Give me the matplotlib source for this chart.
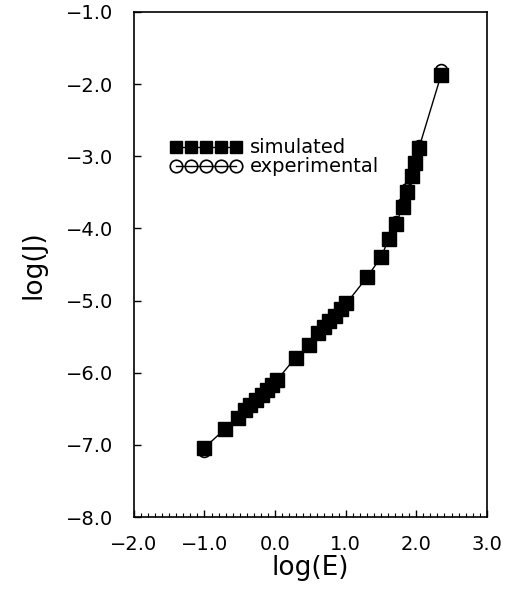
import numpy as np
import matplotlib.pyplot as plt
from matplotlib.ticker import MultipleLocator, FuncFormatter

# log(E) values and log(J) for simulated / experimental
log_e = [-1.00, -0.71, -0.53,
         -0.43, -0.35, -0.27, -0.19, -0.11, -0.04, 0.03,
         0.29, 0.48,
         0.61, 0.69, 0.77, 0.85, 0.93, 1.01,
         1.30, 1.50, 1.61, 1.71, 1.81, 1.87, 1.94, 1.98, 2.04, 2.35]
log_j_sim = [-7.04, -6.78, -6.63,
             -6.52, -6.45, -6.38, -6.31, -6.24, -6.17, -6.10,
             -5.79, -5.62,
             -5.45, -5.37, -5.29, -5.21, -5.12, -5.04,
             -4.68, -4.40, -4.15, -3.94, -3.70, -3.49, -3.28, -3.09, -2.88, -1.88]
log_j_exp = [-7.09, -6.78, -6.63,
             -6.52, -6.45, -6.38, -6.31, -6.24, -6.17, -6.10,
             -5.79, -5.62,
             -5.45, -5.37, -5.29, -5.21, -5.12, -5.04,
             -4.68, -4.39, -4.13, -3.91, -3.66, -3.46, -3.25, -3.06, -2.86, -1.81]

fig = plt.figure(figsize=(5.13, 5.97), dpi=100)
ax = fig.add_axes([0.261, 0.134, 0.688, 0.846])

ax.plot(log_e, log_j_sim, color="black", lw=1.0, zorder=1)
ax.plot(log_e, log_j_sim, ls="none", marker="s", ms=9.5, color="black", zorder=2)
ax.plot(log_e, log_j_exp, ls="none", marker="o", ms=8.5, mfc="none", mec="black", mew=1.2, zorder=3)

# legend drawn with five symbols each
h_sim = plt.Line2D([], [], color="black", lw=1.0, marker="s", ms=9)
h_exp = plt.Line2D([], [], color="black", lw=1.0, marker="o", ms=9, mfc="none", mew=1.2)
ax.legend([h_sim, h_exp], ["simulated", "experimental"], numpoints=5, frameon=False,
          loc="upper left", bbox_to_anchor=(0.075, 0.769), fontsize=14,
          handlelength=3.7, handletextpad=0.4, labelspacing=0.0, borderpad=0)

fmt = FuncFormatter(lambda v, pos: ("%.1f" % v).replace("-", "\u2212"))
ax.set_xlim(-2.0, 3.0)
ax.set_ylim(-8.0, -1.0)
ax.xaxis.set_major_locator(MultipleLocator(1.0))
ax.xaxis.set_minor_locator(MultipleLocator(0.1))
ax.yaxis.set_major_locator(MultipleLocator(1.0))
ax.xaxis.set_major_formatter(fmt)
ax.yaxis.set_major_formatter(fmt)
ax.tick_params(axis="both", which="major", direction="in", length=5, width=1, labelsize=14)
ax.tick_params(axis="x", which="minor", direction="in", length=3, width=0.8)
ax.tick_params(axis="y", which="major", pad=15)
ax.tick_params(axis="x", which="major", pad=13)
for s in ax.spines.values():
    s.set_linewidth(1.2)

ax.set_xlabel("log(E)", fontsize=19, labelpad=1)
ax.set_ylabel("log(J)", fontsize=19, labelpad=14)

fig.savefig("out.png", dpi=100)
